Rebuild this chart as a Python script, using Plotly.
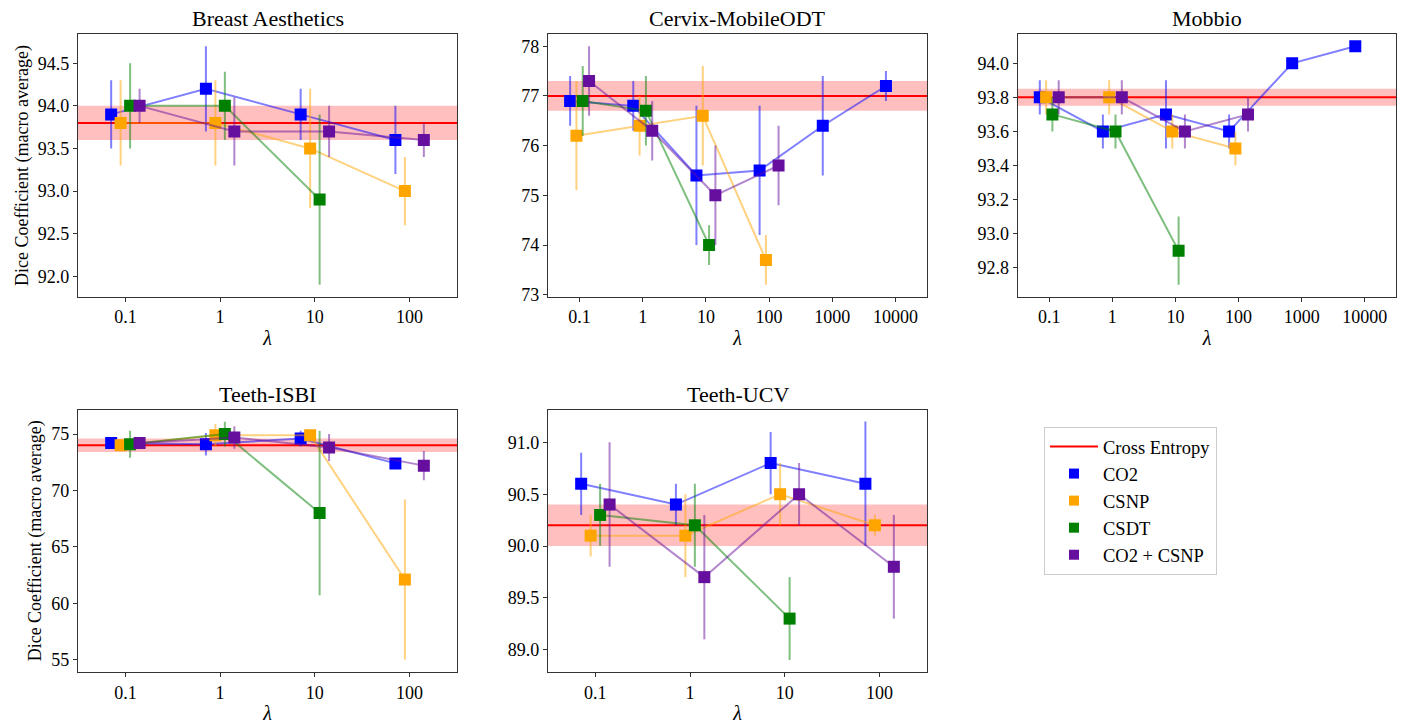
import plotly.graph_objects as go

# ---------------- data ----------------
datasets = ["Breast Aesthetics", "Cervix-MobileODT", "Mobbio", "Teeth-ISBI", "Teeth-UCV"]
series_names = ["CO2", "CSNP", "CSDT", "CO2 + CSNP"]

# Cross entropy baseline (mean, std)
ce_mean = [93.8, 77.0, 93.8, 74.0, 90.2]
ce_std = [0.2, 0.3, 0.05, 0.6, 0.2]

# lambda values per dataset and series
lam_breast = {"CO2": [0.1, 1, 10, 100], "CSNP": [0.1, 1, 10, 100], "CSDT": [0.1, 1, 10], "CO2 + CSNP": [0.1, 1, 10, 100]}
lam_cervix = {"CO2": [0.1, 1, 10, 100, 1000, 10000], "CSNP": [0.1, 1, 10, 100], "CSDT": [0.1, 1, 10], "CO2 + CSNP": [0.1, 1, 10, 100]}
lam_mobbio = {"CO2": [0.1, 1, 10, 100, 1000, 10000], "CSNP": [0.1, 1, 10, 100], "CSDT": [0.1, 1, 10], "CO2 + CSNP": [0.1, 1, 10, 100]}
lam_isbi = {"CO2": [0.1, 1, 10, 100], "CSNP": [0.1, 1, 10, 100], "CSDT": [0.1, 1, 10], "CO2 + CSNP": [0.1, 1, 10, 100]}
lam_ucv = {"CO2": [0.1, 1, 10, 100], "CSNP": [0.1, 1, 10, 100], "CSDT": [0.1, 1, 10], "CO2 + CSNP": [0.1, 1, 10, 100]}

# mean values
mean_breast = {"CO2": [93.9, 94.2, 93.9, 93.6], "CSNP": [93.8, 93.8, 93.5, 93.0], "CSDT": [94.0, 94.0, 92.9], "CO2 + CSNP": [94.0, 93.7, 93.7, 93.6]}
mean_cervix = {"CO2": [76.9, 76.8, 75.4, 75.5, 76.4, 77.2], "CSNP": [76.2, 76.4, 76.6, 73.7], "CSDT": [76.9, 76.7, 74.0], "CO2 + CSNP": [77.3, 76.3, 75.0, 75.6]}
mean_mobbio = {"CO2": [93.8, 93.6, 93.7, 93.6, 94.0, 94.1], "CSNP": [93.8, 93.8, 93.6, 93.5], "CSDT": [93.7, 93.6, 92.9], "CO2 + CSNP": [93.8, 93.8, 93.6, 93.7]}
mean_isbi = {"CO2": [74.2, 74.1, 74.6, 72.4], "CSNP": [74.0, 74.9, 74.9, 62.1], "CSDT": [74.1, 75.0, 68.0], "CO2 + CSNP": [74.2, 74.7, 73.8, 72.2]}
mean_ucv = {"CO2": [90.6, 90.4, 90.8, 90.6], "CSNP": [90.1, 90.1, 90.5, 90.2], "CSDT": [90.3, 90.2, 89.3], "CO2 + CSNP": [90.4, 89.7, 90.5, 89.8]}

# standard deviations
std_breast = {"CO2": [0.4, 0.5, 0.3, 0.4], "CSNP": [0.5, 0.5, 0.7, 0.4], "CSDT": [0.5, 0.4, 1.0], "CO2 + CSNP": [0.2, 0.4, 0.3, 0.2]}
std_cervix = {"CO2": [0.5, 0.5, 1.4, 1.3, 1.0, 0.3], "CSNP": [1.1, 0.6, 1.0, 0.5], "CSDT": [0.7, 0.7, 0.4], "CO2 + CSNP": [0.7, 0.6, 1.0, 0.8]}
std_mobbio = {"CO2": [0.1, 0.1, 0.2, 0.1, 0.0, 0.0], "CSNP": [0.1, 0.1, 0.1, 0.1], "CSDT": [0.1, 0.1, 0.2], "CO2 + CSNP": [0.1, 0.1, 0.1, 0.1]}
std_isbi = {"CO2": [0.3, 1.0, 0.7, 0.4], "CSNP": [0.4, 1.0, 0.4, 7.1], "CSDT": [1.2, 1.1, 7.3], "CO2 + CSNP": [0.5, 1.0, 1.2, 1.3]}
std_ucv = {"CO2": [0.3, 0.2, 0.3, 0.6], "CSNP": [0.2, 0.4, 0.3, 0.1], "CSDT": [0.3, 0.4, 0.4], "CO2 + CSNP": [0.6, 0.6, 0.3, 0.5]}

x_tick_labels = ["0.1", "1", "10", "100", "1000", "10000"]
x_tick_values = [0.1, 1, 10, 100, 1000, 10000]

# ---------------- styles ----------------
colors = {"CO2": (0, 0, 255), "CSNP": (255, 165, 0), "CSDT": (0, 128, 0), "CO2 + CSNP": (102, 14, 158)}
log_offsets = {"CO2": -0.15, "CSNP": -0.05, "CSDT": 0.05, "CO2 + CSNP": 0.15}
FONT = "Liberation Serif, Times New Roman, serif"

lams = [lam_breast, lam_cervix, lam_mobbio, lam_isbi, lam_ucv]
means = [mean_breast, mean_cervix, mean_mobbio, mean_isbi, mean_ucv]
stds = [std_breast, std_cervix, std_mobbio, std_isbi, std_ucv]

W, H = 1407, 724
PAGE_OFF = 0  # body margin removed via post_script


def px(v):
    return (v - PAGE_OFF) / W


def py(v):
    return 1 - (v - PAGE_OFF) / H


# pixel boxes of panels in screen coordinates: (left, right, top, bottom)
boxes = [(78, 457, 34.3, 296.7), (548, 927, 34.3, 296.7), (1017.7, 1396.3, 34.3, 296.7),
         (78, 457, 409.7, 672), (548, 927, 409.7, 672)]
x_ranges = [[-1.5, 2.5], [-1.5, 4.5], [-1.5, 4.5], [-1.5, 2.5], [-1.5, 2.5]]
y_ranges = [[91.76, 94.84], [72.96, 78.24], [92.63, 94.17], [53.9, 77.16], [88.785, 91.315]]
y_ticks = [[92.0, 92.5, 93.0, 93.5, 94.0, 94.5], [73, 74, 75, 76, 77, 78],
           [92.8, 93.0, 93.2, 93.4, 93.6, 93.8, 94.0], [55, 60, 65, 70, 75], [89.0, 89.5, 90.0, 90.5, 91.0]]
y_fmt = [".1f", "d", ".1f", "d", ".1f"]

fig = go.Figure()
layout = dict(width=W, height=H, margin=dict(l=0, r=0, t=0, b=0, autoexpand=False),
              paper_bgcolor="white", plot_bgcolor="white", showlegend=True,
              font=dict(family=FONT, size=17, color="black"))
shapes = []
annotations = []

for i, name in enumerate(datasets):
    l, r, t, b = boxes[i]
    xa = "xaxis" if i == 0 else f"xaxis{i+1}"
    ya = "yaxis" if i == 0 else f"yaxis{i+1}"
    xref = "x" if i == 0 else f"x{i+1}"
    yref = "y" if i == 0 else f"y{i+1}"
    n_ticks = 4 if x_ranges[i][1] < 3 else 6
    layout[xa] = dict(domain=[px(l), px(r)], anchor=yref, type="log", range=x_ranges[i],
                      tickvals=x_tick_values[:n_ticks], ticktext=x_tick_labels[:n_ticks],
                      showgrid=False, zeroline=False, showline=True, linecolor="#333", linewidth=1.3,
                      mirror=True, ticks="outside", ticklen=4, tickcolor="#333", automargin=False,
                      tickfont=dict(family=FONT, size=18),
                      title=dict(text="<i>λ</i>", font=dict(family=FONT, size=20), standoff=4))
    layout[ya] = dict(domain=[py(b), py(t)], anchor=xref, range=y_ranges[i],
                      tickvals=y_ticks[i], tickformat=y_fmt[i], automargin=False,
                      showgrid=False, zeroline=False, showline=True, linecolor="#333", linewidth=1.3,
                      mirror=True, ticks="outside", ticklen=4, tickcolor="#333",
                      tickfont=dict(family=FONT, size=18))
    if i in (0, 3):
        layout[ya]["title"] = dict(text="Dice Coefficient (macro average)", font=dict(family=FONT, size=18), standoff=4)

    # cross-entropy band and line
    shapes.append(dict(type="rect", xref=f"{xref} domain", yref=yref, x0=0, x1=1,
                       y0=ce_mean[i] - ce_std[i], y1=ce_mean[i] + ce_std[i],
                       fillcolor="rgba(255,0,0,0.25)", line=dict(width=0), layer="below"))
    shapes.append(dict(type="line", xref=f"{xref} domain", yref=yref, x0=0, x1=1,
                       y0=ce_mean[i], y1=ce_mean[i], line=dict(color="red", width=2), layer="below"))

    annotations.append(dict(text=name, xref="paper", yref="paper", x=(px(l) + px(r)) / 2, y=py(t - 15.5),
                            xanchor="center", yanchor="middle", showarrow=False,
                            font=dict(family=FONT, size=22, color="black")))

    for s in series_names:
        rgb = colors[s]
        xs = [v * 10 ** log_offsets[s] for v in lams[i][s]]
        fig.add_trace(go.Scatter(
            x=xs, y=means[i][s], xaxis=xref, yaxis=yref, mode="lines+markers", name=s,
            showlegend=False,
            line=dict(color=f"rgba({rgb[0]},{rgb[1]},{rgb[2]},0.5)", width=2),
            marker=dict(symbol="square", size=12, color=f"rgb({rgb[0]},{rgb[1]},{rgb[2]})", line=dict(width=0)),
            error_y=dict(type="data", array=stds[i][s], visible=True, width=0, thickness=2,
                         color=f"rgba({rgb[0]},{rgb[1]},{rgb[2]},0.5)")))

# legend entries
fig.add_trace(go.Scatter(x=[None], y=[None], mode="lines", name="Cross Entropy",
                         line=dict(color="red", width=2)))
for s in series_names:
    rgb = colors[s]
    fig.add_trace(go.Scatter(x=[None], y=[None], mode="markers", name=s,
                             marker=dict(symbol="square", size=10, color=f"rgb({rgb[0]},{rgb[1]},{rgb[2]})")))

layout["shapes"] = shapes
layout["annotations"] = annotations
layout["legend"] = dict(x=px(1044), y=py(427), xanchor="left", yanchor="top",
                        bgcolor="white", bordercolor="#ccc", borderwidth=1, itemwidth=48,
                        font=dict(family=FONT, size=18.5), tracegroupgap=0)
fig.update_layout(**layout)
fig.write_html("out.html", config={"displayModeBar": False},
               post_script="document.body.style.margin='0';document.body.style.overflow='hidden';")
